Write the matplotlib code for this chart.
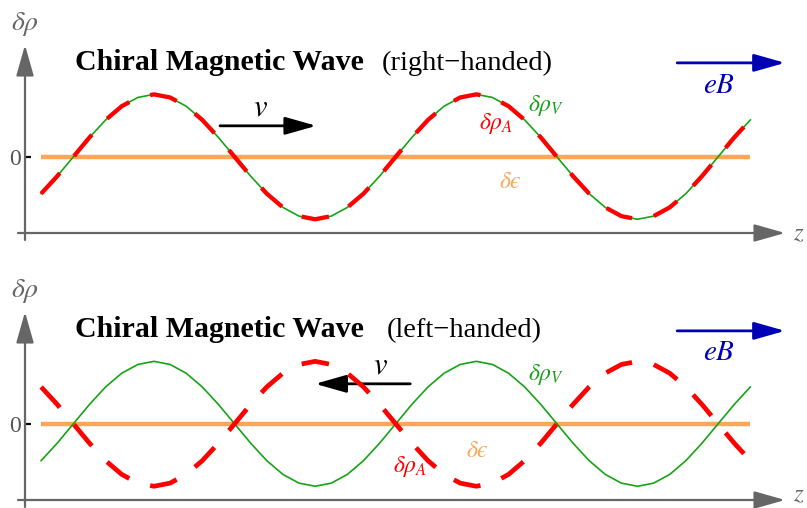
import matplotlib
matplotlib.use("Agg")
import matplotlib.pyplot as plt

plt.rcParams['mathtext.fontset'] = 'stix'
plt.rcParams['lines.scale_dashes'] = False

# sample positions along z (half wavelength = 1)
z = [0.8, 0.9, 1.0, 1.1, 1.2, 1.3, 1.4, 1.5, 1.6, 1.7, 1.8, 1.9,
     2.0, 2.1, 2.2, 2.3, 2.4, 2.5, 2.6, 2.7, 2.8, 2.9,
     3.0, 3.1, 3.2, 3.3, 3.4, 3.5, 3.6, 3.7, 3.8, 3.9,
     4.0, 4.1, 4.2, 4.3, 4.4, 4.5, 4.6, 4.7, 4.8, 4.9,
     5.0, 5.1, 5.2]

# vector density (same in both panels)
rho_V = [-0.59, -0.31, 0.0, 0.31, 0.59, 0.81, 0.95, 1.0, 0.95, 0.81, 0.59, 0.31,
         0.0, -0.31, -0.59, -0.81, -0.95, -1.0, -0.95, -0.81, -0.59, -0.31,
         0.0, 0.31, 0.59, 0.81, 0.95, 1.0, 0.95, 0.81, 0.59, 0.31,
         0.0, -0.31, -0.59, -0.81, -0.95, -1.0, -0.95, -0.81, -0.59, -0.31,
         0.0, 0.31, 0.59]

# axial density: in phase (right-handed), out of phase (left-handed)
rho_A_right = [-0.59, -0.31, 0.0, 0.31, 0.59, 0.81, 0.95, 1.0, 0.95, 0.81, 0.59, 0.31,
               0.0, -0.31, -0.59, -0.81, -0.95, -1.0, -0.95, -0.81, -0.59, -0.31,
               0.0, 0.31, 0.59, 0.81, 0.95, 1.0, 0.95, 0.81, 0.59, 0.31,
               0.0, -0.31, -0.59, -0.81, -0.95, -1.0, -0.95, -0.81, -0.59, -0.31,
               0.0, 0.31, 0.59]
rho_A_left = [0.59, 0.31, 0.0, -0.31, -0.59, -0.81, -0.95, -1.0, -0.95, -0.81, -0.59, -0.31,
              0.0, 0.31, 0.59, 0.81, 0.95, 1.0, 0.95, 0.81, 0.59, 0.31,
              0.0, -0.31, -0.59, -0.81, -0.95, -1.0, -0.95, -0.81, -0.59, -0.31,
              0.0, 0.31, 0.59, 0.81, 0.95, 1.0, 0.95, 0.81, 0.59, 0.31,
              0.0, -0.31, -0.59]

# energy density stays flat
z_eps = [0.8, 5.2]
eps = [0.0, 0.0]

panels = ["(right\u2212handed)", "(left\u2212handed)"]
rho_A_list = [rho_A_right, rho_A_left]

green = '#16a316'
red = '#ff0000'
orange = '#fba659'
blue = '#0000b4'
gray = '#666666'

W, H = 807, 508
fig = plt.figure(figsize=(W / 100, H / 100), dpi=100)

boxes = [(25, 45, 785, 233), (25, 312, 785, 500)]
head = '-|>,head_length=0.95,head_width=0.27'

for k in range(2):
    x0, y0, x1, y1 = boxes[k]
    ax = fig.add_axes([x0 / W, (H - y1) / H, (x1 - x0) / W, (y1 - y0) / H])
    ax.set_xlim(0.70, 5.415)
    ax.set_ylim(-1.22, 1.79)
    for s in ax.spines.values():
        s.set_visible(False)
    ax.set_xticks([])
    ax.set_yticks([0])
    ax.set_yticklabels(['0'], family='Liberation Serif', fontsize=17, color='#555555')
    ax.tick_params(axis='y', direction='in', length=4, width=1.6, color='black', pad=3)

    # axes arrows
    ax.annotate('', xy=(1.0, 0), xytext=(-0.0092, 0), xycoords='axes fraction',
                arrowprops=dict(arrowstyle=head, mutation_scale=20, lw=1.6,
                                color=gray, shrinkA=0, shrinkB=0))
    ax.annotate('', xy=(0, 1.0), xytext=(0, -0.037), xycoords='axes fraction',
                arrowprops=dict(arrowstyle=head, mutation_scale=20, lw=1.6,
                                color=gray, shrinkA=0, shrinkB=0))

    # curves
    ax.plot(z_eps, eps, color=orange, lw=3.2, solid_capstyle='butt', zorder=2)
    ax.plot(z, rho_V, color=green, lw=1.2, zorder=3)
    red_lw = 3.1 if k == 0 else 3.4
    ax.plot(z, rho_A_list[k], color=red, lw=red_lw, dashes=(20, 16),
            dash_capstyle='butt', zorder=4)

    # titles
    ax.text(1.012, 1.39, 'Chiral Magnetic Wave', family='Liberation Serif',
            weight='bold', fontsize=21.5, va='baseline', ha='left')
    ax.text(2.916 + 0.03 * k, 1.39, panels[k], family='Liberation Serif',
            fontsize=20.5, va='baseline', ha='left')

    # axis labels
    ax.text(0.70, 2.13, r'$\delta\rho$', color=gray, fontsize=20,
            ha='center', va='center', clip_on=False)
    ax.text(5.465, -1.22 + 0.1 * k, r'$z$', color=gray, fontsize=18,
            ha='left', va='center', clip_on=False)

    # eB arrow
    ax.annotate('', xy=(5.415, 1.504 - 0.016 * k), xytext=(4.746, 1.504 - 0.016 * k),
                arrowprops=dict(arrowstyle=head, mutation_scale=20, lw=2.0,
                                color=blue, shrinkA=0, shrinkB=0),
                annotation_clip=False)
    ax.text(5.006, 1.152, r'$eB$', color=blue, fontsize=21, ha='center', va='center')

    if k == 0:
        ax.annotate('', xy=(2.507, 0.496), xytext=(1.91, 0.496),
                    arrowprops=dict(arrowstyle=head, mutation_scale=20, lw=2.0,
                                    color='black', shrinkA=0, shrinkB=0))
        ax.text(2.16, 0.80, r'$v$', fontsize=22, ha='center', va='center')
        ax.text(3.933, 0.816, r'$\delta\rho_V$', color=green, fontsize=17,
                ha='center', va='center')
        ax.text(3.623, 0.528, r'$\delta\rho_A$', color=red, fontsize=17,
                ha='center', va='center')
        ax.text(3.71, -0.384, '$\\delta\u03f5$', color=orange, fontsize=17,
                ha='center', va='center')
    else:
        ax.annotate('', xy=(2.50, 0.64), xytext=(3.09, 0.64),
                    arrowprops=dict(arrowstyle=head, mutation_scale=20, lw=2.0,
                                    color='black', shrinkA=0, shrinkB=0))
        ax.text(2.904, 0.944, r'$v$', fontsize=22, ha='center', va='center')
        ax.text(3.933, 0.784, r'$\delta\rho_V$', color=green, fontsize=17,
                ha='center', va='center')
        ax.text(3.09, -0.688, r'$\delta\rho_A$', color=red, fontsize=17,
                ha='center', va='center')
        ax.text(3.505, -0.416, '$\\delta\u03f5$', color=orange, fontsize=17,
                ha='center', va='center')

fig.savefig('out.png', dpi=100)
